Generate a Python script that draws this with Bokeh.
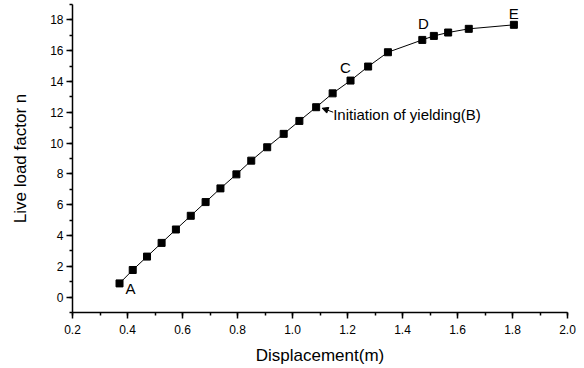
from bokeh.plotting import figure
from bokeh.models import Range1d, SingleIntervalTicker, Arrow, NormalHead, ColumnDataSource, NumeralTickFormatter
from bokeh.core.properties import value
from bokeh.embed import file_html
from bokeh.resources import INLINE

# Data
displacement = [0.371, 0.419, 0.471, 0.524, 0.576, 0.630, 0.684, 0.738, 0.796, 0.850,
                0.908, 0.968, 1.025, 1.086, 1.146, 1.211, 1.275, 1.347, 1.472, 1.514,
                1.566, 1.641, 1.805]
load_factor = [0.89, 1.76, 2.63, 3.52, 4.39, 5.28, 6.17, 7.06, 7.97, 8.86,
               9.73, 10.60, 11.44, 12.33, 13.23, 14.06, 14.97, 15.90, 16.70, 16.96,
               17.18, 17.42, 17.68]
point_labels = ["A", "C", "D", "E"]
point_label_index = [0, 15, 18, 22]
yield_label = "Initiation of yielding(B)"
yield_index = 13

FONT = "Liberation Sans"
X0, X1, Y0, Y1 = 0.2, 2.0, -1.0, 19.0
FW, FH = 495, 308
sx = FW / (X1 - X0)
sy = FH / (Y1 - Y0)

p = figure(width=584, height=368, frame_width=FW, frame_height=FH,
           x_range=Range1d(X0, X1), y_range=Range1d(Y0, Y1),
           output_backend="svg", toolbar_location=None,
           min_border_left=72, min_border_right=17, min_border_top=4, min_border_bottom=56)
p.outline_line_color = None
p.xgrid.visible = False
p.ygrid.visible = False
p.background_fill_color = "white"
p.border_fill_color = "white"

p.xaxis.ticker = SingleIntervalTicker(interval=0.2, num_minor_ticks=2)
p.yaxis.ticker = SingleIntervalTicker(interval=2, num_minor_ticks=2)
p.xaxis.formatter = NumeralTickFormatter(format="0.0")
for ax in (p.xaxis, p.yaxis):
    ax.axis_line_width = 1.5
    ax.axis_line_color = "black"
    ax.major_tick_line_width = 1.5
    ax.minor_tick_line_width = 1.5
    ax.major_tick_line_color = "black"
    ax.minor_tick_line_color = "black"
    ax.major_tick_out = 6
    ax.major_tick_in = 0
    ax.minor_tick_out = 3
    ax.minor_tick_in = 0
    ax.major_label_text_font = FONT
    ax.major_label_text_font_size = "12px"
    ax.major_label_text_color = "black"
    ax.axis_label_text_font = FONT
    ax.axis_label_text_font_size = "17px"
    ax.axis_label_text_font_style = "normal"
    ax.axis_label_text_color = "black"
p.xaxis.major_label_standoff = 6
p.yaxis.major_label_standoff = 3
p.xaxis.axis_label = "Displacement(m)"
p.yaxis.axis_label = "Live load factor n"
p.xaxis.axis_label_standoff = 9
p.yaxis.axis_label_standoff = 17

src = ColumnDataSource(dict(x=displacement, y=load_factor))
p.line("x", "y", source=src, line_color="black", line_width=1)
p.scatter("x", "y", source=src, marker="square", size=7, fill_color="black", line_color="black")

# Point letters, tied to data points with pixel offsets
offsets = {"A": (6, 5), "C": (-5, -13), "D": (1, -16), "E": (0, -11)}
aligns = {"A": "left", "C": "center", "D": "center", "E": "center"}
lx = [displacement[i] for i in point_label_index]
ly = [load_factor[i] for i in point_label_index]
lsrc = ColumnDataSource(dict(
    x=lx, y=ly, t=point_labels,
    xo=[offsets[t][0] for t in point_labels],
    yo=[offsets[t][1] for t in point_labels],
    al=[aligns[t] for t in point_labels]))
p.text("x", "y", text="t", source=lsrc, x_offset="xo", y_offset="yo",
       text_font=value(FONT), text_font_size="15px", text_color="#000000",
       text_align="al", text_baseline="middle")

bx, by = displacement[yield_index], load_factor[yield_index]
p.text([bx], [by], text=[yield_label], x_offset=17, y_offset=7,
       text_font=value(FONT), text_font_size="15px", text_color="#000000",
       text_align="left", text_baseline="middle")
p.add_layout(Arrow(end=NormalHead(size=6, fill_color="black", line_color="black"),
                   x_start=bx + 17 / sx, y_start=by - 5 / sy,
                   x_end=bx + 6 / sx, y_end=by - 1 / sy,
                   line_color="black", line_width=1))

open("out.html", "w").write(file_html(p, INLINE))
